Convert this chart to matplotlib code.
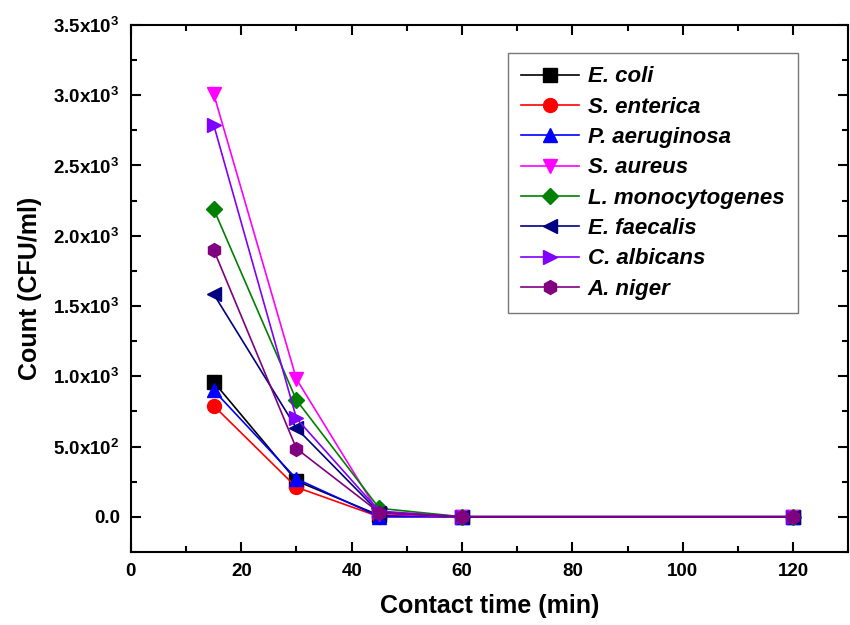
import numpy as np
import matplotlib.pyplot as plt
from matplotlib.ticker import MultipleLocator, FuncFormatter

plt.rcParams["font.family"] = "Liberation Sans"
plt.rcParams["font.weight"] = "bold"
plt.rcParams["mathtext.fontset"] = "custom"
plt.rcParams["mathtext.rm"] = "Liberation Sans:bold"
plt.rcParams["mathtext.it"] = "Liberation Sans:bold:italic"
plt.rcParams["mathtext.bf"] = "Liberation Sans:bold"

time_min = [15, 30, 45, 60, 120]

e_coli = [960, 255, 10, 0, 0]
s_enterica = [790, 210, 0, 0, 0]
p_aeruginosa = [900, 270, 0, 0, 0]
s_aureus = [3010, 980, 20, 0, 0]
l_monocytogenes = [2190, 830, 60, 0, 0]
e_faecalis = [1585, 630, 30, 0, 0]
c_albicans = [2790, 700, 40, 0, 0]
a_niger = [1900, 485, 30, 0, 0]

series = [
    ("E. coli", e_coli, "black", "s"),
    ("S. enterica", s_enterica, "red", "o"),
    ("P. aeruginosa", p_aeruginosa, "blue", "^"),
    ("S. aureus", s_aureus, "#FF00FF", "v"),
    ("L. monocytogenes", l_monocytogenes, "#008000", "D"),
    ("E. faecalis", e_faecalis, "#000080", "<"),
    ("C. albicans", c_albicans, "#8000FF", ">"),
    ("A. niger", a_niger, "#800080", "h"),
]

fig = plt.figure(figsize=(8.5, 6.25), dpi=100)
ax = fig.add_axes([0.154, 0.117, 0.844, 0.843])

for name, vals, color, marker in series:
    ms = 8 if marker == "D" else 10
    ax.plot(time_min, vals, color=color, marker=marker, markersize=ms,
            linewidth=1.2, label=name)

ax.set_xlim(0, 130)
ax.set_ylim(-250, 3500)
ax.xaxis.set_major_locator(MultipleLocator(20))
ax.xaxis.set_minor_locator(MultipleLocator(10))
ax.yaxis.set_major_locator(MultipleLocator(500))
ax.yaxis.set_minor_locator(MultipleLocator(250))


def sci_fmt(v, pos):
    if abs(v) < 1e-9:
        return "0.0"
    exp = int(np.floor(np.log10(abs(v))))
    mant = v / 10 ** exp
    return f"{mant:.1f}x10$^{{{exp}}}$"


ax.yaxis.set_major_formatter(FuncFormatter(sci_fmt))
ax.tick_params(which="both", direction="in", top=True, right=True, width=1.5)
ax.tick_params(which="major", length=7, labelsize=13.5, pad=8)
ax.tick_params(which="minor", length=4)
for sp in ax.spines.values():
    sp.set_linewidth(1.5)

ax.set_xlabel("Contact time (min)", fontsize=18, fontweight="bold", labelpad=10)
ax.set_ylabel("Count (CFU/ml)", fontsize=18, fontweight="bold", labelpad=8)

leg = ax.legend(loc="upper right", bbox_to_anchor=(0.945, 0.968),
                prop={"size": 16, "weight": "bold", "style": "italic"},
                fancybox=False, edgecolor="#555555", handlelength=2.6,
                handletextpad=0.4, labelspacing=0.42, borderpad=0.6)
leg.get_frame().set_linewidth(1.0)

fig.savefig("out.png", dpi=100)
